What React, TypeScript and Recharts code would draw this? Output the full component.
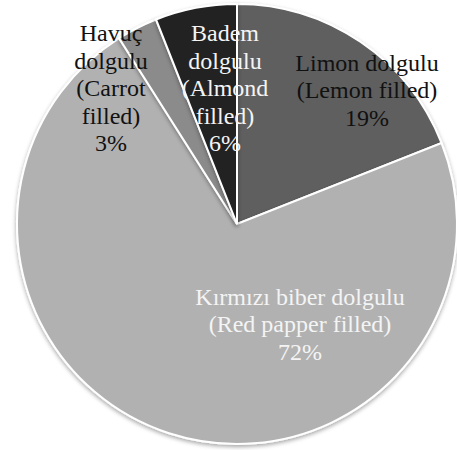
import { PieChart, Pie, Cell } from "recharts";

const categories = [
  ["Limon dolgulu", "(Lemon filled)"],
  ["Kırmızı biber dolgulu", "(Red papper filled)"],
  ["Havuç", "dolgulu", "(Carrot", "filled)"],
  ["Badem", "dolgulu", "(Almond", "filled)"],
];
const shares = [19, 72, 3, 6];

const colors = ["#5f5f5f", "#b1b1b1", "#8b8b8b", "#222222"];
const textColors = ["#111111", "#f4f4f4", "#111111", "#f4f4f4"];
// label centre, relative to the pie centre
const labelOffsets = [
  [130, -134],
  [63, 100],
  [-126, -136],
  [-12, -136],
];

const data = categories.map((lines, i) => ({
  name: lines.join(" "),
  lines,
  value: shares[i],
}));

const LINE_H = 27.5;

const renderLabel = (props: any) => {
  const { cx, cy, index } = props;
  const lines: string[] = [...data[index].lines, `${data[index].value}%`];
  const [dx, dy] = labelOffsets[index];
  const x = cx + dx;
  const y0 = cy + dy - ((lines.length - 1) * LINE_H) / 2;
  return (
    <text
      key={`lbl-${index}`}
      x={x}
      y={y0}
      textAnchor="middle"
      dominantBaseline="central"
      fill={textColors[index]}
      style={{ fontFamily: "'Liberation Serif', 'Times New Roman', serif", fontSize: 24 }}
    >
      {lines.map((l, i) => (
        <tspan key={i} x={x} y={y0 + i * LINE_H}>
          {l}
        </tspan>
      ))}
    </text>
  );
};

export default function App() {
  return (
    <div style={{ position: "absolute", left: 0, top: 0, width: 457, height: 450, background: "#fff" }}>
      <PieChart width={457} height={450} margin={{ top: 0, right: 0, bottom: 0, left: 0 }}>
        <defs>
          <filter id="pieShadow" x="-10%" y="-10%" width="120%" height="120%">
            <feDropShadow dx="0" dy="2" stdDeviation="2" floodColor="#000" floodOpacity="0.35" />
          </filter>
        </defs>
        <Pie
          data={data}
          dataKey="value"
          cx={237}
          cy={224}
          outerRadius={220}
          startAngle={90}
          endAngle={-270}
          stroke="#ffffff"
          strokeWidth={2}
          labelLine={false}
          label={renderLabel}
          isAnimationActive={false}
          style={{ filter: "url(#pieShadow)" }}
        >
          {data.map((_, i) => (
            <Cell key={i} fill={colors[i]} />
          ))}
        </Pie>
      </PieChart>
    </div>
  );
}
